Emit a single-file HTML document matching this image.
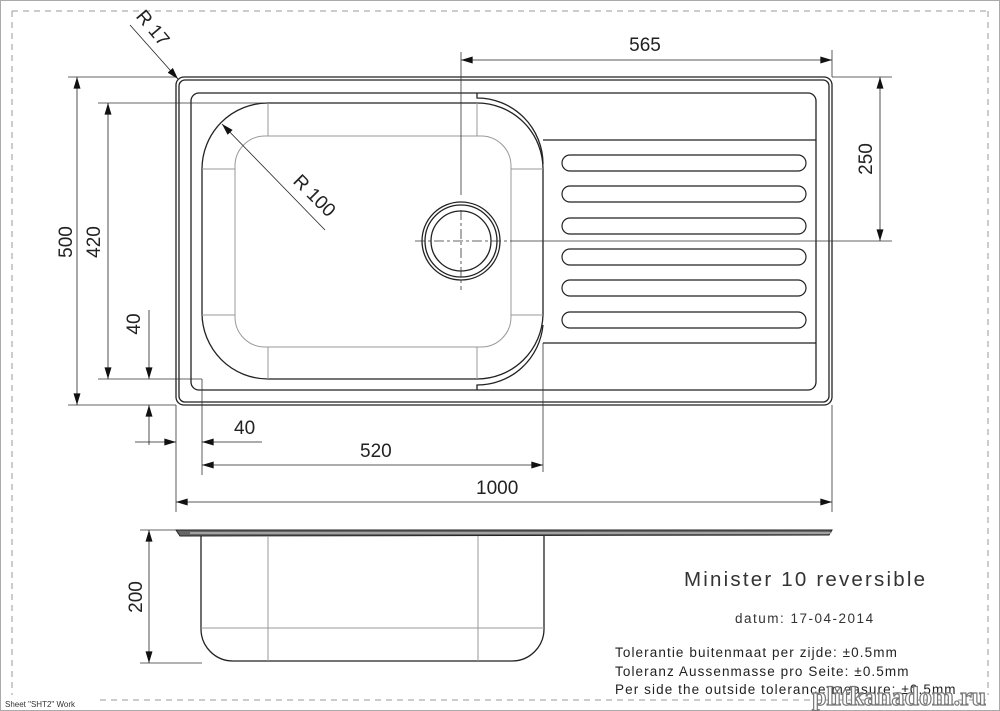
<!DOCTYPE html>
<html><head><meta charset="utf-8"><style>
html,body{margin:0;padding:0;background:#fff;}
svg{display:block;font-family:"Liberation Sans",sans-serif;}
</style></head><body>
<svg width="1000" height="711" viewBox="0 0 1000 711" xmlns="http://www.w3.org/2000/svg">
<defs>
<marker id="a" viewBox="0 0 10 6" refX="10" refY="3" markerWidth="12" markerHeight="7" markerUnits="userSpaceOnUse" orient="auto-start-reverse"><path d="M0,0 L10,3 L0,6 z" fill="#111"/></marker>
</defs>
<rect x="0.5" y="0.5" width="999" height="710" fill="none" stroke="#aaa"/>
<g stroke="#999" stroke-dasharray="6,5" fill="none">
<line x1="12" y1="11" x2="988" y2="11"/>
<line x1="12" y1="11" x2="12" y2="695"/>
<line x1="988" y1="11" x2="988" y2="695"/>
<line x1="100" y1="700" x2="988" y2="700"/>
</g>
<text x="5" y="707" font-size="8" fill="#333">Sheet "SHT2" Work</text>

<!-- top view -->
<g fill="none" stroke="#222" stroke-width="1.3">
<rect x="176" y="77" width="656" height="328" rx="8"/>
<rect x="179" y="80" width="650" height="322" rx="6"/>
<rect x="191" y="93" width="625" height="297" rx="8"/>
<path d="M268,103 L477,103 A66,66 0 0 1 543,169 L543,315 A66,66 0 0 1 477,379 L268,379 A66,66 0 0 1 202,313 L202,169 A66,66 0 0 1 268,103 Z"/>
<path d="M477,93 L477,98 A66,66 0 0 1 543,164"/>
<path d="M543,325 A66,66 0 0 1 477,385 L477,390"/>
<path d="M543,140 L816,140"/>
<path d="M543,343 L816,343"/>
<circle cx="461" cy="241" r="39"/>
<circle cx="461" cy="241" r="36"/>
<circle cx="461" cy="241" r="30"/>
</g>
<g fill="none" stroke="#222" stroke-width="1.2">
<rect x="562" y="155" width="244" height="16" rx="8"/>
<rect x="562" y="186" width="244" height="16" rx="8"/>
<rect x="562" y="218" width="244" height="16" rx="8"/>
<rect x="562" y="249" width="244" height="16" rx="8"/>
<rect x="562" y="280" width="244" height="16" rx="8"/>
<rect x="562" y="312" width="244" height="16" rx="8"/>
</g>
<g fill="none" stroke="#999" stroke-width="1">
<rect x="235" y="136" width="276" height="211" rx="30"/>
<line x1="268" y1="103" x2="268" y2="136"/><line x1="477" y1="103" x2="477" y2="136"/>
<line x1="268" y1="347" x2="268" y2="379"/><line x1="477" y1="347" x2="477" y2="379"/>
<line x1="202" y1="169" x2="235" y2="169"/><line x1="511" y1="169" x2="543" y2="169"/>
<line x1="202" y1="315" x2="235" y2="315"/><line x1="511" y1="315" x2="543" y2="315"/>
</g>
<!-- centre lines / extension lines -->
<g stroke="#333" stroke-width="0.8" fill="none">
<line x1="461" y1="52" x2="461" y2="195"/>
<line x1="461" y1="210" x2="461" y2="290" stroke-dasharray="10,3,3,3"/>
<line x1="415" y1="241" x2="510" y2="241" stroke-dasharray="10,3,3,3"/>
<line x1="510" y1="241" x2="892" y2="241"/>
<line x1="832" y1="50" x2="832" y2="77"/>
<line x1="832" y1="77" x2="892" y2="77"/>
<line x1="68" y1="77" x2="176" y2="77"/>
<line x1="98" y1="103" x2="268" y2="103"/>
<line x1="98" y1="379" x2="202" y2="379"/>
<line x1="68" y1="405" x2="176" y2="405"/>
<line x1="176" y1="405" x2="176" y2="512"/>
<line x1="202" y1="379" x2="202" y2="475"/>
<line x1="543" y1="343" x2="543" y2="472"/>
<line x1="832" y1="405" x2="832" y2="512"/>
<line x1="140" y1="530" x2="176" y2="530"/>
<line x1="140" y1="663" x2="202" y2="663"/>
</g>
<!-- dimension lines -->
<g stroke="#222" stroke-width="0.8" fill="none" marker-end="url(#a)" >
<line x1="461" y1="60" x2="832" y2="60" marker-start="url(#a)"/>
<line x1="880" y1="241" x2="880" y2="77" marker-start="url(#a)"/>
<line x1="77" y1="405" x2="77" y2="77" marker-start="url(#a)"/>
<line x1="108" y1="379" x2="108" y2="103" marker-start="url(#a)"/>
<line x1="149" y1="310" x2="149" y2="379"/>
<line x1="149" y1="445" x2="149" y2="405"/>
<line x1="135" y1="442" x2="176" y2="442"/>
<line x1="262" y1="442" x2="202" y2="442"/>
<line x1="202" y1="465" x2="543" y2="465" marker-start="url(#a)"/>
<line x1="176" y1="502" x2="832" y2="502" marker-start="url(#a)"/>
<line x1="149" y1="663" x2="149" y2="530" marker-start="url(#a)"/>
<line x1="130" y1="25" x2="178" y2="79"/>
<line x1="325" y1="230" x2="222" y2="124"/>
</g>
<!-- labels -->
<g font-size="19" fill="#222">
<text x="645" y="51" text-anchor="middle">565</text>
<text x="360" y="457">520</text>
<text x="476" y="494">1000</text>
<text x="234" y="434">40</text>
<text transform="translate(872,159) rotate(-90)" text-anchor="middle">250</text>
<text transform="translate(72,242) rotate(-90)" text-anchor="middle">500</text>
<text transform="translate(100,242) rotate(-90)" text-anchor="middle">420</text>
<text transform="translate(140,324) rotate(-90)" text-anchor="middle">40</text>
<text transform="translate(142,597) rotate(-90)" text-anchor="middle">200</text>
<text transform="translate(148,32) rotate(50)" text-anchor="middle">R 17</text>
<text transform="translate(310,200) rotate(45)" text-anchor="middle">R 100</text>
</g>
<!-- side view -->
<path d="M176,530 L832,530 L829,535 L180,536 Z" fill="#666" stroke="#222" stroke-width="1"/>
<line x1="190" y1="533" x2="832" y2="533" stroke="#ddd" stroke-width="1"/>
<path d="M201,536 L201,629 A32,32 0 0 0 233,661 L512,661 A32,32 0 0 0 544,629 L544,536" fill="none" stroke="#222" stroke-width="1.3"/>
<g stroke="#999" stroke-width="1">
<line x1="268" y1="536" x2="268" y2="661"/>
<line x1="478" y1="536" x2="478" y2="661"/>
<line x1="201" y1="628" x2="544" y2="628"/>
</g>
<!-- title block -->
<text x="684" y="586" font-size="20.5" fill="#333" letter-spacing="2.2">Minister 10 reversible</text>
<text x="735" y="623" font-size="13.5" fill="#333" letter-spacing="1.5">datum: 17-04-2014</text>
<g font-size="13.5" fill="#222" letter-spacing="1.1">
<text x="615" y="657">Tolerantie buitenmaat per zijde: ±0.5mm</text>
<text x="615" y="676">Toleranz Aussenmasse pro Seite: ±0.5mm</text>
<text x="615" y="694">Per side the outside tolerance measure: ±0.5mm</text>
</g>
<text x="812" y="705" font-size="26" font-weight="bold" fill="#fff" stroke="#777" stroke-width="1.2" font-family="Liberation Serif,serif">plitkanadom.ru</text>
</svg>
</body></html>
